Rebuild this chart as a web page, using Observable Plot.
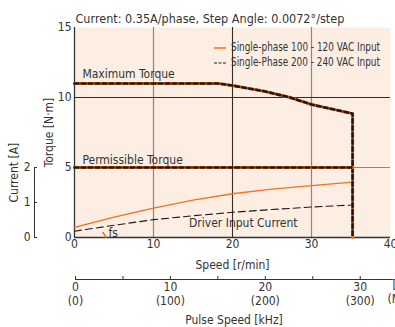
<!DOCTYPE html>
<html><head><meta charset="utf-8">
<script src="https://cdn.jsdelivr.net/npm/d3@7"></script>
<script src="https://cdn.jsdelivr.net/npm/@observablehq/plot@0.6"></script>
<style>
body{margin:0;background:#fff;}
#wrap{position:relative;width:395px;height:327px;overflow:hidden;font-family:"Liberation Sans Narrow","DejaVu Sans Condensed",sans-serif;color:#333;}
#wrap svg{display:block;}
#legend{position:absolute;left:214px;top:40px;font-size:11.5px;line-height:15px;white-space:nowrap;}
#legend .row{height:15px;display:flex;align-items:center;}
#legend svg{display:block;margin-right:5px;flex:none;}
#legend span{display:inline-block;transform-origin:0 50%;}
</style></head><body><div id="wrap"></div>
<script>
const title = "Current: 0.35A/phase, Step Angle: 0.0072°/step";
const legendLabels = ["Single-phase 100 - 120 VAC Input", "Single-Phase 200 - 240 VAC Input"];

// Torque curves (N·m) vs speed (r/min)
const torqueSpeed = [0, 18.2, 20, 24, 27.3, 30, 35.2, 35.2];
const maxTorque   = [11, 11, 10.85, 10.45, 10.0, 9.5, 8.85, 0];
const permSpeed   = [0, 35.2];
const permTorque  = [5, 5];

// Driver input current (A) vs speed
const currentSpeed = [0, 5, 10, 15, 20, 25, 30, 35.2];
const current100   = [0.29, 0.58, 0.84, 1.07, 1.25, 1.38, 1.48, 1.58];
const current200   = [0.18, 0.35, 0.51, 0.62, 0.72, 0.80, 0.87, 0.93];

// secondary current axis: 2 A aligns with 5 N·m
const currentTicks = [0, 1, 2];
const torquePerAmp = 2.5;

// fs marker
const fsSpeed  = [3.6, 4.0];
const fsTorque = [0.36, 0.02];

// annotations
const annoText = ["Maximum Torque", "Permissible Torque", "Driver Input Current", "fs"];
const annoX    = [1.0, 1.0, 14.5, 4.3];
const annoY    = [11.65, 5.55, 1.0, 0.3];

// axes
const speedTicks = [0, 10, 20, 30, 40];
const torqueTicks = [0, 5, 10, 15];
const pulseMajor = [0, 10, 20, 30];
const pulseKHz   = [0, 100, 200, 300];
const pulseMinor = [5, 15, 25];

const ORANGE = "#f37021", BLACK = "#231815", GRID = "#8e8480", DARK = "#3a2a24", FILL = "#fdeee3";
const FONT = '"Liberation Sans Narrow","DejaVu Sans Condensed",sans-serif';

const rows = (xs, ys) => xs.map((x, i) => ({x, y: ys[i]}));
const toT = a => a * torquePerAmp;

const torqueRows = rows(torqueSpeed, maxTorque);
const permRows = rows(permSpeed, permTorque);
const c100 = currentSpeed.map((s, i) => ({x: s, y: toT(current100[i])}));
const c200 = currentSpeed.map((s, i) => ({x: s, y: toT(current200[i])}));
const fsRows = rows(fsSpeed, fsTorque);
const annos = annoText.map((t, i) => ({t, x: annoX[i], y: annoY[i]}));

const main = Plot.plot({
  width: 395, height: 270, marginTop: 27, marginBottom: 33, marginLeft: 74, marginRight: 5,
  style: {fontFamily: FONT, fontSize: "12px", color: "#333", background: "transparent", overflow: "visible"},
  x: {domain: [0, 40], label: "Speed [r/min]"},
  y: {domain: [0, 15], label: "Torque [N·m]"},
  marks: [
    Plot.frame({fill: FILL, stroke: null}),
    Plot.ruleX([10, 30], {stroke: GRID, strokeWidth: 1.2}),
    Plot.ruleX([20], {stroke: DARK, strokeWidth: 1.1}),
    Plot.ruleY([5], {stroke: GRID, strokeWidth: 1.2}),
    Plot.ruleY([10], {stroke: DARK, strokeWidth: 1.1}),
    Plot.ruleX([0], {stroke: "#333", strokeWidth: 1.3}),
    Plot.ruleY([0], {stroke: "#333", strokeWidth: 1.3}),
    Plot.axisX(speedTicks, {tickSize: 0, tickPadding: 2, label: "Speed [r/min]", labelAnchor: "center", labelArrow: "none", labelOffset: 31}),
    Plot.axisY(torqueTicks, {tickSize: 0, tickPadding: 3, label: "Torque [N·m]", labelAnchor: "center", labelArrow: "none", labelOffset: 30}),
    // secondary current axis
    Plot.axisY(currentTicks.map(toT), {tickSize: 3, tickPadding: 4, dx: -37, tickFormat: (d, i) => currentTicks[i], label: null, stroke: "#333"}),
    Plot.ruleX([0], {y1: toT(currentTicks[0]), y2: toT(currentTicks[currentTicks.length - 1]), dx: -40, stroke: "#333"}),
    Plot.text(["Current [A]"], {frameAnchor: "left", y: [toT(1)], text: d => d, rotate: -90, dx: -60, fontSize: 12}),
    // current curves
    Plot.line(c100, {x: "x", y: "y", stroke: ORANGE, strokeWidth: 1.3}),
    Plot.line(c200, {x: "x", y: "y", stroke: BLACK, strokeWidth: 1.1, strokeDasharray: "7,4"}),
    // torque curves
    Plot.line(torqueRows, {x: "x", y: "y", stroke: ORANGE, strokeWidth: 3}),
    Plot.line(torqueRows, {x: "x", y: "y", stroke: BLACK, strokeWidth: 2.6, strokeDasharray: "4,3"}),
    Plot.line(permRows, {x: "x", y: "y", stroke: ORANGE, strokeWidth: 3}),
    Plot.line(permRows, {x: "x", y: "y", stroke: BLACK, strokeWidth: 2.6, strokeDasharray: "4,3"}),
    // fs
    Plot.line(fsRows, {x: "x", y: "y", stroke: ORANGE, strokeWidth: 1.5}),
    Plot.text(annos, {x: "x", y: "y", text: "t", textAnchor: "start", fill: "#333", fontSize: 12}),
    Plot.text([title], {frameAnchor: "top-left", text: d => d, dy: -13, dx: 1, textAnchor: "start", fontSize: 12.5})
  ]
});

const pulse = Plot.plot({
  width: 395, height: 57, marginTop: 0, marginBottom: 48, marginLeft: 75, marginRight: 3,
  style: {fontFamily: FONT, fontSize: "12px", color: "#333", background: "transparent", overflow: "visible"},
  x: {domain: [0, 33.4], label: "Pulse Speed [kHz]"},
  marks: [
    Plot.frame({anchor: "bottom", stroke: "#333"}),
    Plot.axisX(pulseMinor, {tickSize: -3, tickFormat: () => "", label: null}),
    Plot.axisX(pulseMajor, {tickSize: -3, tickPadding: 5, lineHeight: 1.15,
      tickFormat: (d, i) => `${pulseMajor[i]}\n(${pulseKHz[i]})`,
      label: "Pulse Speed [kHz]", labelAnchor: "center", labelArrow: "none", labelOffset: 44}),
    Plot.text(["[r/min]"], {frameAnchor: "bottom-right", text: d => d, dx: 0, dy: 9, textAnchor: "start"}),
    Plot.text(["(Microstep)"], {frameAnchor: "bottom-right", text: d => d, dx: -5, dy: 23, textAnchor: "start"})
  ]
});

const wrap = document.getElementById("wrap");
wrap.appendChild(main);
wrap.appendChild(pulse);

const legend = document.createElement("div");
legend.id = "legend";
wrap.appendChild(legend);
const styles = [{stroke: ORANGE, dash: null, w: 1.5}, {stroke: BLACK, dash: "3,1.5", w: 1.2}];
const legendTextWidth = 149;
legendLabels.forEach((lab, i) => {
  const row = document.createElement("div");
  row.className = "row";
  const s = styles[i];
  row.innerHTML = `<svg width="12" height="10"><line x1="0" x2="12" y1="5" y2="5" stroke="${s.stroke}" stroke-width="${s.w}" ${s.dash ? `stroke-dasharray="${s.dash}"` : ""}/></svg>`;
  const span = document.createElement("span");
  span.textContent = lab;
  row.appendChild(span);
  legend.appendChild(row);
  const w = span.getBoundingClientRect().width;
  if (w > 0) span.style.transform = `scaleX(${legendTextWidth / w})`;
});
</script></body></html>
